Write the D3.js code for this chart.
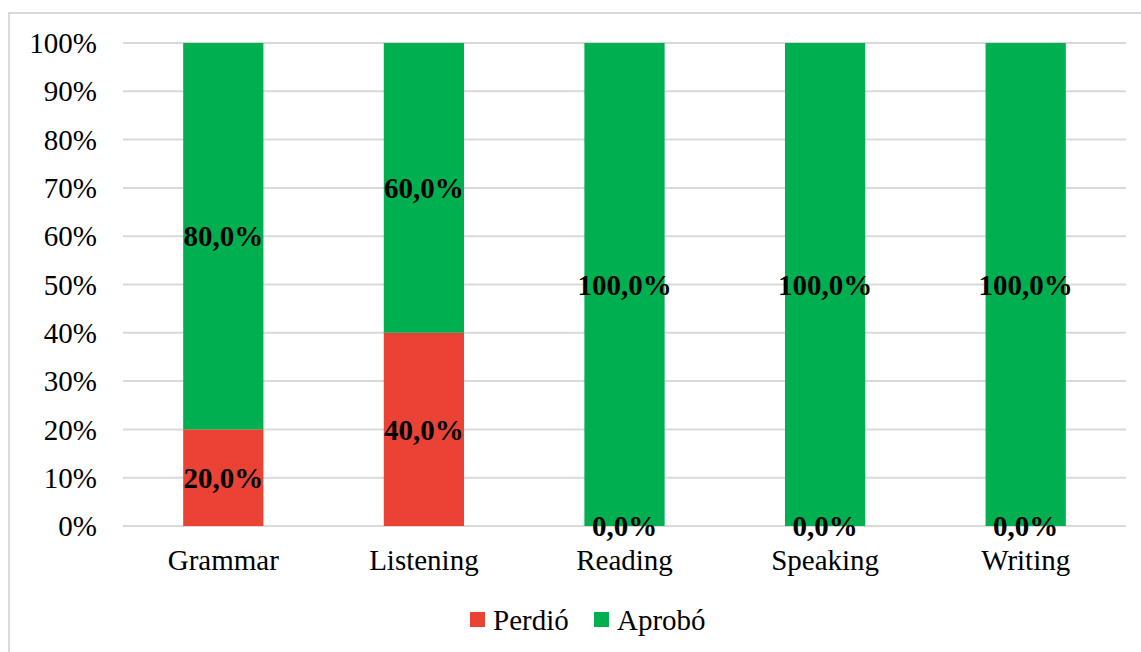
<!DOCTYPE html>
<html><head><meta charset="utf-8">
<script src="https://cdn.jsdelivr.net/npm/d3@7"></script>
<style>body{margin:0;background:#fff}svg{display:block}</style>
</head><body>
<svg id="c" width="1141" height="652"></svg>
<script>
const categories = ["Grammar","Listening","Reading","Speaking","Writing"];
const seriesNames = ["Perdió","Aprobó"];
const perdio = [0.20,0.40,0.0,0.0,0.0];
const aprobo = [0.80,0.60,1.0,1.0,1.0];
const yTicks = [0,0.1,0.2,0.3,0.4,0.5,0.6,0.7,0.8,0.9,1.0];
const colors = ["#EA4335","#00B050"];

const svg = d3.select("#c");
const font = "'Liberation Serif', 'Times New Roman', serif";
svg.append("rect").attr("x",9).attr("y",13).attr("width",1150).attr("height",660)
  .attr("fill","#fff").attr("stroke","#d9d9d9").attr("stroke-width",2);

const x = d3.scaleBand().domain(categories).range([123,1126]).paddingInner(0.6).paddingOuter(0.3);
const y = d3.scaleLinear().domain([0,1]).range([526,43]);

const g = svg.append("g");
g.selectAll("line.grid").data(yTicks).join("line")
  .attr("x1",123).attr("x2",1126).attr("y1",d=>y(d)).attr("y2",d=>y(d))
  .attr("stroke","#d9d9d9").attr("stroke-width",2);

const table = categories.map((c,i)=>({cat:c, "Perdió":perdio[i], "Aprobó":aprobo[i]}));
const stack = d3.stack().keys(seriesNames)(table);

stack.forEach((s,si)=>{
  g.selectAll(null).data(s).join("rect")
    .attr("x",d=>x(d.data.cat)).attr("width",x.bandwidth())
    .attr("y",d=>y(d[1])).attr("height",d=>y(d[0])-y(d[1]))
    .attr("fill",colors[si]);
});
stack.forEach((s,si)=>{
  g.selectAll(null).data(s).join("text")
    .attr("x",d=>x(d.data.cat)+x.bandwidth()/2)
    .attr("y",d=>y((d[0]+d[1])/2))
    .attr("dy","0.35em")
    .attr("text-anchor","middle")
    .attr("font-family",font).attr("font-weight","bold").attr("font-size",29)
    .attr("fill","#000")
    .text(d=>((d[1]-d[0])*100).toFixed(1).replace(".",",")+"%");
});

// y axis labels
g.selectAll("text.yt").data(yTicks).join("text")
  .attr("x",97).attr("y",d=>y(d)).attr("dy","0.35em").attr("text-anchor","end")
  .attr("font-family",font).attr("font-size",29).attr("fill","#000")
  .text(d=>Math.round(d*100)+"%");

// x axis labels
g.selectAll("text.xt").data(categories).join("text")
  .attr("x",d=>x(d)+x.bandwidth()/2).attr("y",570).attr("text-anchor","middle")
  .attr("font-family",font).attr("font-size",29).attr("fill","#000")
  .text(d=>d);

// legend
const legX = [470,594];
seriesNames.forEach((n,i)=>{
  svg.append("rect").attr("x",legX[i]).attr("y",612).attr("width",15).attr("height",15).attr("fill",colors[i]);
  svg.append("text").attr("x",legX[i]+23).attr("y",630)
    .attr("font-family",font).attr("font-size",29).attr("fill","#000").text(n);
});
</script>
</body></html>
